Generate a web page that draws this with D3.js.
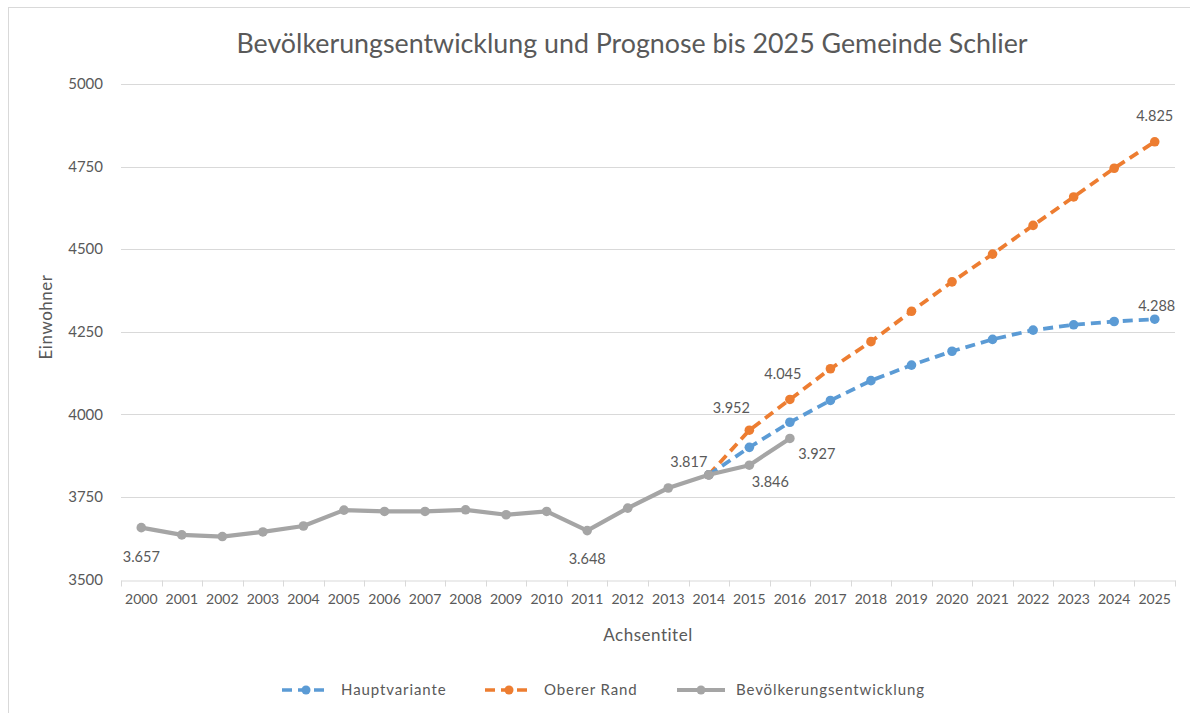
<!DOCTYPE html>
<html><head><meta charset="utf-8">
<script src="https://cdn.jsdelivr.net/npm/d3@7"></script>
<style>
html,body{margin:0;padding:0;background:#fff;}
svg{display:block;font-family:Lato,"Open Sans",sans-serif;}
</style></head>
<body><svg id="c" width="1190" height="713"></svg>
<script>
const years = ["2000","2001","2002","2003","2004","2005","2006","2007","2008","2009","2010","2011","2012","2013","2014","2015","2016","2017","2018","2019","2020","2021","2022","2023","2024","2025"];
const bevYears = ["2000","2001","2002","2003","2004","2005","2006","2007","2008","2009","2010","2011","2012","2013","2014","2015","2016"];
const bevValues = [3657,3635,3630,3644,3662,3710,3706,3706,3711,3696,3706,3648,3716,3777,3817,3846,3927];
const progYears = ["2014","2015","2016","2017","2018","2019","2020","2021","2022","2023","2024","2025"];
const hauptValues = [3817,3900,3976,4042,4102,4149,4191,4227,4255,4271,4281,4288];
const obererValues = [3817,3952,4045,4138,4220,4312,4401,4485,4572,4658,4745,4825];
const yTicks = [3500,3750,4000,4250,4500,4750,5000];
const seriesNames = ["Hauptvariante","Oberer Rand","Bevölkerungsentwicklung"];
const colors = ["#5b9bd5","#ed7d31","#a5a5a5"];

const title = "Bevölkerungsentwicklung und Prognose bis 2025 Gemeinde Schlier";
const fmt = v => String(v).replace(/(\d)(\d{3})$/, "$1.$2");

const svg = d3.select("#c");
const textCol = "#595959", gridCol = "#d9d9d9";

svg.append("rect").attr("x",8.5).attr("y",7.5).attr("width",1200).attr("height",720)
  .attr("fill","#fff").attr("stroke","#d9d9d9").attr("stroke-width",1);

const x = d3.scaleBand().domain(years).range([121,1175]).padding(0);
const y = d3.scaleLinear().domain([3500,5000]).range([579.5,84]);
const cx = d => x(d) + x.bandwidth()/2;

svg.append("text").attr("x",632).attr("y",53).attr("text-anchor","middle")
  .attr("font-size",26.8).attr("fill",textCol).text(title);

svg.append("g").selectAll("line").data(yTicks.filter(t=>t>3500)).join("line")
  .attr("x1",121).attr("x2",1175).attr("y1",d=>Math.round(y(d))+0.5).attr("y2",d=>Math.round(y(d))+0.5)
  .attr("stroke",gridCol).attr("stroke-width",1);

const yAxis = d3.axisLeft(y).tickValues(yTicks).tickFormat(d3.format("d")).tickSize(0).tickPadding(0);
const gy = svg.append("g").attr("transform","translate(103,0)").call(yAxis);
gy.select(".domain").remove();
gy.selectAll("text").attr("font-size",15).attr("fill",textCol).attr("font-family","Lato,sans-serif");

const xAxis = d3.axisBottom(x).tickSize(0).tickPadding(14);
const gx = svg.append("g").attr("transform","translate(0,"+(Math.round(y(3500))+0.5)+")").call(xAxis);
gx.select(".domain").attr("stroke",gridCol);
gx.selectAll("text").attr("font-size",14).attr("fill",textCol).attr("font-family","Lato,sans-serif");
gx.append("g").selectAll("line").data(years.concat(["end"])).join("line")
  .attr("x1",(d,i)=>Math.round(121 + i*x.bandwidth())+0.5)
  .attr("x2",(d,i)=>Math.round(121 + i*x.bandwidth())+0.5)
  .attr("y1",0).attr("y2",6).attr("stroke",gridCol);

svg.append("text").attr("x",648).attr("y",641).attr("text-anchor","middle")
  .attr("font-size",17).attr("letter-spacing",0.5).attr("fill",textCol).text("Achsentitel");
svg.append("text").attr("transform","translate(52,317) rotate(-90)").attr("text-anchor","middle")
  .attr("font-size",17).attr("letter-spacing",0.5).attr("fill",textCol).text("Einwohner");

const line = d3.line().x(d=>cx(d[0])).y(d=>y(d[1]));
const series = [
  {name:seriesNames[0], col:colors[0], dash:"10,6", data:d3.zip(progYears,hauptValues)},
  {name:seriesNames[1], col:colors[1], dash:"10,6", data:d3.zip(progYears,obererValues)},
  {name:seriesNames[2], col:colors[2], dash:null, data:d3.zip(bevYears,bevValues)}
];
const drawOrder = [1,0,2];
drawOrder.forEach(i=>{
  const s = series[i];
  const g = svg.append("g");
  g.append("path").attr("d",line(s.data)).attr("fill","none").attr("stroke",s.col)
    .attr("stroke-width",s.dash?3.8:4.2).attr("stroke-dasharray",s.dash).attr("stroke-linejoin","round");
  g.selectAll("circle").data(s.data).join("circle").attr("cx",d=>cx(d[0])).attr("cy",d=>y(d[1]))
    .attr("r",4.8).attr("fill",s.col);
});

const labelSpecs = [
  [2,"2000",0,29],[2,"2011",0,28],[2,"2014",-20,-13],[2,"2015",21,17],[2,"2016",27,16],
  [1,"2015",-18,-22],[1,"2016",-7,-25],[1,"2025",0,-26],[0,"2025",2,-13]
];
svg.append("g").selectAll("text").data(labelSpecs).join("text")
  .attr("x",d=>cx(d[1])+d[2])
  .attr("y",d=>{const s=series[d[0]];const v=s.data.find(p=>p[0]===d[1])[1];return y(v)+d[3]+5;})
  .attr("text-anchor","middle").attr("font-size",14.5).attr("fill",textCol)
  .text(d=>fmt(series[d[0]].data.find(p=>p[0]===d[1])[1]));

const legX = [282,485,677];
const lg = svg.append("g");
series.forEach((s,i)=>{
  const g = lg.append("g").attr("transform","translate("+legX[i]+",690)");
  g.append("line").attr("x1",0).attr("x2",48).attr("y1",0).attr("y2",0).attr("stroke",s.col)
    .attr("stroke-width",s.dash?3.5:4).attr("stroke-dasharray",s.dash?"10,6":null);
  g.append("circle").attr("cx",24).attr("cy",0).attr("r",4.5).attr("fill",s.col);
  g.append("text").attr("x",59).attr("y",5).attr("font-size",15).attr("letter-spacing",0.9)
    .attr("fill",textCol).text(s.name);
});
</script></body></html>
